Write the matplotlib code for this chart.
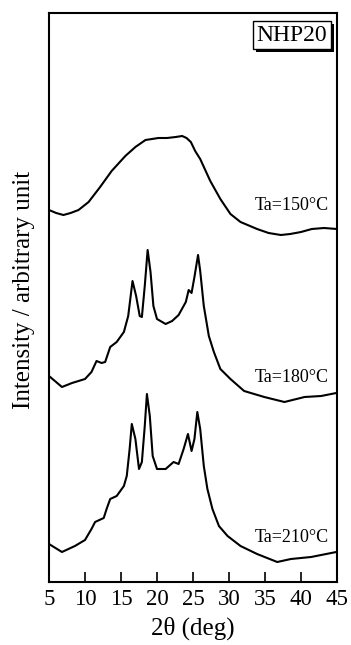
import matplotlib.pyplot as plt
from matplotlib import patheffects

plt.rcParams['font.family'] = 'serif'
plt.rcParams['font.serif'] = ['Liberation Serif', 'DejaVu Serif']

# XRD patterns of NHP20 annealed at different temperatures
theta_150 = [5.0, 6.0, 7.0, 8.0, 9.1, 10.5, 12.1, 13.7, 15.6, 17.0, 18.4, 19.3, 20.2,
             21.4, 22.6, 23.5, 24.1, 24.7, 25.3, 26.0, 27.4, 28.8, 30.2, 31.6, 33.9,
             35.5, 37.2, 38.5, 40.0, 41.5, 43.2, 45.0]
int_150 = [52, 49, 47, 49, 52, 60, 75, 91, 106, 115, 122, 123, 124, 124, 125, 126,
           124, 120, 111, 103, 81, 63, 48, 40, 33, 29, 27, 28, 30, 33, 34, 33]

theta_180 = [5.0, 6.8, 8.2, 10.0, 10.9, 11.6, 12.3, 12.8, 13.5, 14.4, 15.4, 16.0, 16.6,
             17.1, 17.6, 17.9, 18.3, 18.7, 19.1, 19.5, 20.0, 21.2, 22.1, 23.0, 24.0,
             24.4, 24.8, 25.2, 25.7, 26.0, 26.5, 27.2, 27.9, 28.8, 30.2, 32.1, 34.9,
             37.7, 40.5, 42.8, 44.9]
int_180 = [46, 35, 39, 43, 50, 61, 59, 60, 75, 80, 90, 106, 141, 126, 106, 105, 136,
           172, 150, 116, 103, 98, 101, 107, 120, 132, 129, 145, 167, 151, 116, 86, 70,
           53, 43, 31, 25, 20, 25, 26, 29]

theta_210 = [5.0, 6.8, 8.6, 10.0, 10.9, 11.4, 12.6, 13.0, 13.5, 14.4, 15.4, 15.8, 16.2,
             16.5, 17.0, 17.5, 17.9, 18.3, 18.6, 19.0, 19.4, 20.0, 21.2, 22.3, 23.0,
             23.7, 24.3, 24.8, 25.2, 25.6, 26.0, 26.5, 27.0, 27.7, 28.6, 29.8, 31.6,
             33.9, 36.7, 38.6, 41.4, 44.9]
int_210 = [38, 30, 36, 42, 53, 60, 64, 73, 83, 86, 96, 106, 133, 158, 143, 113, 120,
           156, 188, 166, 126, 113, 113, 120, 118, 133, 148, 131, 143, 170, 153, 116,
           93, 73, 56, 46, 36, 28, 20, 23, 25, 30]

labels = ['Ta=150°C', 'Ta=180°C', 'Ta=210°C']
offsets = [320, 160, 0]
label_y = [377, 205, 45]

fig = plt.figure(figsize=(3.51, 6.45), dpi=100)
ax = fig.add_axes([49 / 351, 63 / 645, 288 / 351, 569 / 645])

curves = [(theta_150, int_150), (theta_180, int_180), (theta_210, int_210)]
for (tt, ii), off, lab, ly in zip(curves, offsets, labels, label_y):
    ax.plot(tt, [v + off for v in ii], color='black', lw=1.5)
    ax.text(43.9, ly, lab, ha='right', va='center', fontsize=13)

# sample name box with a drop shadow
name = ax.text(38.75, 547, 'NHP20', ha='center', va='center', fontsize=17,
               bbox=dict(boxstyle='square,pad=0.15', fc='white', ec='black', lw=1))
name.get_bbox_patch().set_path_effects([
    patheffects.SimplePatchShadow(offset=(2, -2), shadow_rgbFace='black', alpha=1),
    patheffects.Normal()])

ax.set_xlim(5, 45)
ax.set_ylim(0, 569)
ax.set_xticks(range(5, 50, 5))
ax.set_yticks([])
ax.tick_params(axis='x', direction='in', length=7, width=1.2, labelsize=16.5, pad=5)
for sp in ax.spines.values():
    sp.set_linewidth(1.5)

ax.set_xlabel('2θ (deg)', fontsize=18)
ax.xaxis.set_label_coords(0.5, -0.06)
ax.xaxis.label.set_va('top')
ax.set_ylabel('Intensity / arbitrary unit', fontsize=18)
ax.yaxis.set_label_coords(-0.05, 0.513)

fig.savefig('out.png', dpi=100)
